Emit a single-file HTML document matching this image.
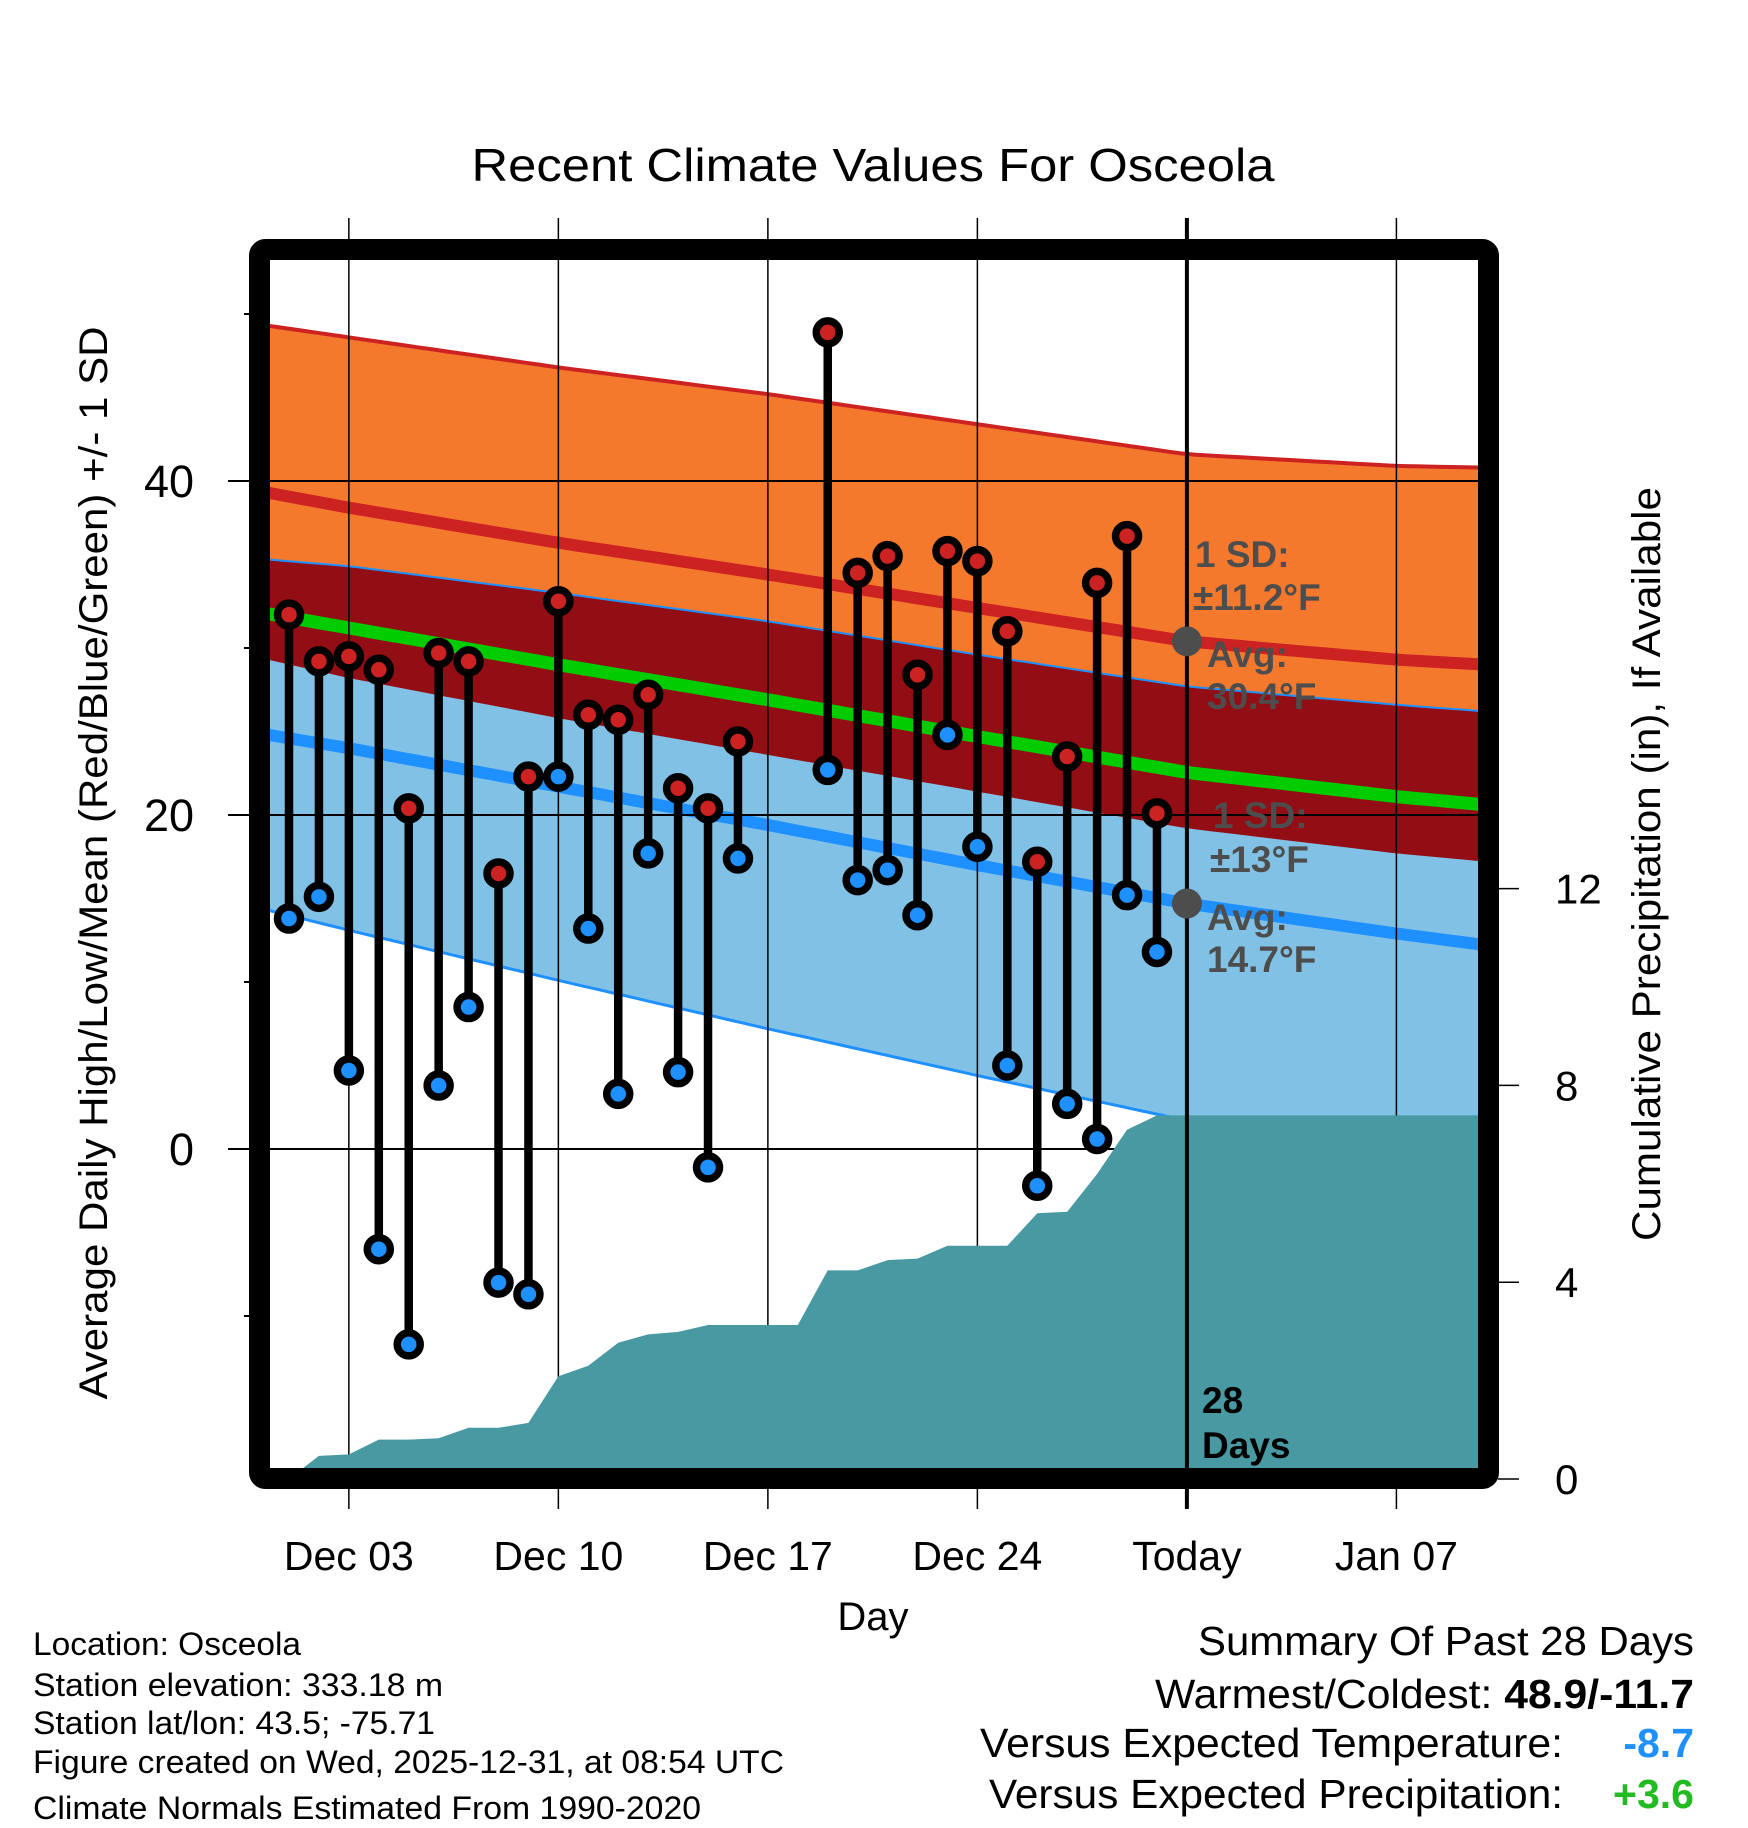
<!DOCTYPE html>
<html><head><meta charset="utf-8"><style>
html,body{margin:0;padding:0;background:#fff;}
svg{display:block;font-family:"Liberation Sans",Arial,sans-serif;}
</style></head><body>
<svg id="chart" xmlns="http://www.w3.org/2000/svg" width="1748" height="1828" viewBox="0 0 1748 1828">
<defs><clipPath id="plotclip"><rect x="270" y="260" width="1208" height="1209"/></clipPath></defs>
<text x="873" y="181" font-size="46" text-anchor="middle" textLength="803" lengthAdjust="spacingAndGlyphs">Recent Climate Values For Osceola</text>
<g id="bands" clip-path="url(#plotclip)"></g>
<g id="grid"></g>
<g id="precip" clip-path="url(#plotclip)"></g>
<g id="today"></g>
<g id="marks"></g>
<g id="annot" font-weight="bold" fill="#4d4d4d" font-size="37">
  <text x="1195" y="567">1 SD:</text>
  <text x="1193" y="610">±11.2°F</text>
  <text x="1207" y="667">Avg:</text>
  <text x="1207" y="709">30.4°F</text>
  <text x="1213" y="828">1 SD:</text>
  <text x="1210" y="872">±13°F</text>
  <text x="1207" y="930">Avg:</text>
  <text x="1207" y="972">14.7°F</text>
  <text x="1202" y="1413" fill="#000">28</text>
  <text x="1202" y="1458" fill="#000">Days</text>
</g>
<rect x="259.5" y="249.5" width="1229" height="1229" rx="6" fill="none" stroke="#000" stroke-width="21"/>
<g id="axes"></g>
<text transform="translate(107,863) rotate(-90)" font-size="40" text-anchor="middle" textLength="1073" lengthAdjust="spacingAndGlyphs">Average Daily High/Low/Mean (Red/Blue/Green) +/- 1 SD</text>
<text transform="translate(1660,864) rotate(-90)" font-size="40" text-anchor="middle" textLength="754" lengthAdjust="spacingAndGlyphs">Cumulative Precipitation (in), If Available</text>
<text x="873" y="1630" font-size="40" text-anchor="middle">Day</text>
<g font-size="32">
  <text x="33" y="1655" textLength="268" lengthAdjust="spacingAndGlyphs">Location: Osceola</text>
  <text x="33" y="1696" textLength="410" lengthAdjust="spacingAndGlyphs">Station elevation: 333.18 m</text>
  <text x="33" y="1734" textLength="402" lengthAdjust="spacingAndGlyphs">Station lat/lon: 43.5; -75.71</text>
  <text x="33" y="1773" textLength="751" lengthAdjust="spacingAndGlyphs">Figure created on Wed, 2025-12-31, at 08:54 UTC</text>
  <text x="33" y="1819" textLength="668" lengthAdjust="spacingAndGlyphs">Climate Normals Estimated From 1990-2020</text>
</g>
<g font-size="41" text-anchor="end">
  <text x="1694" y="1655" textLength="496" lengthAdjust="spacingAndGlyphs">Summary Of Past 28 Days</text>
  <text x="1694" y="1708" textLength="539" lengthAdjust="spacingAndGlyphs">Warmest/Coldest: <tspan font-weight="bold">48.9/-11.7</tspan></text>
  <text x="1563" y="1757" textLength="583" lengthAdjust="spacingAndGlyphs">Versus Expected Temperature:</text>
  <text x="1694" y="1757" font-weight="bold" fill="#1e90ff">-8.7</text>
  <text x="1563" y="1808" textLength="574" lengthAdjust="spacingAndGlyphs">Versus Expected Precipitation:</text>
  <text x="1694" y="1808" font-weight="bold" fill="#22bb22">+3.6</text>
</g>
</svg>
<script>
// ---- data ----
const dayNums = [1,2,3,4,5,6,7,8,9,10,11,12,13,14,15,16,19,20,21,22,23,24,25,26,27,28,29,30];
const highs = [32.0,29.2,29.5,28.7,20.4,29.7,29.2,16.5,22.3,32.8,26.0,25.7,27.2,21.6,20.4,24.4,48.9,34.5,35.5,28.4,35.8,35.2,31.0,17.2,23.5,33.9,36.7,20.1];
const lows  = [13.8,15.1,4.7,-6.0,-11.7,3.8,8.5,-8.0,-8.7,22.3,13.2,3.3,17.7,4.6,-1.1,17.4,22.7,16.1,16.7,14.0,24.8,18.1,5.0,-2.2,2.7,0.6,15.2,11.8];
const precipDays = [1,2,3,4,5,6,7,8,9,10,11,12,13,14,15,16,17,18,19,20,21,22,23,24,25,26,27,28,29,30,41];
const precipCum  = [0,0.47,0.5,0.8,0.8,0.83,1.04,1.04,1.14,2.09,2.3,2.77,2.94,2.99,3.13,3.13,3.13,3.13,4.24,4.24,4.45,4.48,4.74,4.74,4.74,5.4,5.43,6.2,7.1,7.39,7.39];
const normDays = [0.3,3,10,17,24,31,38,41];
const highMean = [39.3,38.4,36.3,34.4,32.4,30.4,29.3,29.0];
const highSD   = [10.0,10.2,10.5,10.8,11.0,11.2,11.6,11.8];
const lowMean  = [24.8,24.0,21.7,19.4,17.0,14.7,12.9,12.2];
const lowSD    = [10.5,10.9,11.6,12.2,12.6,13.0,13.7,14.0];
const xTickDays = [3,10,17,24,31,38];
const xTickLabels = ["Dec 03","Dec 10","Dec 17","Dec 24","Today","Jan 07"];
const yTicks = [0,20,40];
const yMinor = [-10,10,30,50];
const y2Ticks = [0,4,8,12];
// ---- scales ----
const X = d => 289 + (d-1)*29.93;
const Y = t => 1149 - 16.7*t;
const P = p => 1479 - 49.2*p;
const NS='http://www.w3.org/2000/svg';
function mk(tag, attrs, parent){const e=document.createElementNS(NS,tag);for(const k in attrs)e.setAttribute(k,attrs[k]);parent.appendChild(e);return e;}
function interp(arr,d){for(let i=0;i<normDays.length-1;i++){if(d<=normDays[i+1]){const f=(d-normDays[i])/(normDays[i+1]-normDays[i]);return arr[i]+f*(arr[i+1]-arr[i]);}}return arr[arr.length-1];}
const samp=[];for(let d=normDays[0];d<=normDays[normDays.length-1]+0.001;d+=0.5)samp.push(d);
const fn = {
  hiU:d=>interp(highMean,d)+interp(highSD,d), hiL:d=>interp(highMean,d)-interp(highSD,d),
  loU:d=>interp(lowMean,d)+interp(lowSD,d), loL:d=>interp(lowMean,d)-interp(lowSD,d),
  hi:d=>interp(highMean,d), lo:d=>interp(lowMean,d), mean:d=>(interp(highMean,d)+interp(lowMean,d))/2
};
function line(f){return samp.map(d=>X(d).toFixed(1)+','+Y(f(d)).toFixed(1)).join(' ');}
function band(fu,fl){return samp.map(d=>X(d).toFixed(1)+','+Y(fu(d)).toFixed(1)).join(' ')+' '+samp.slice().reverse().map(d=>X(d).toFixed(1)+','+Y(fl(d)).toFixed(1)).join(' ');}
const bands=document.getElementById('bands');
let e;
e=mk('polygon',{points:band(fn.hiU,fn.hiL),fill:'#f4792d'},bands);


e=mk('polygon',{points:band(fn.loU,fn.loL),fill:'#82c1e6'},bands);


e=mk('polygon',{points:band(fn.loU,fn.hiL),fill:'#930d14'},bands);


e=mk('polyline',{points:line(fn.hiU),fill:'none',stroke:'#cc2222','stroke-width':4},bands);


e=mk('polyline',{points:line(fn.loU),fill:'none',stroke:'#1e90ff','stroke-width':2},bands);


e=mk('polyline',{points:line(fn.loL),fill:'none',stroke:'#1e90ff','stroke-width':3},bands);


e=mk('polyline',{points:line(fn.hi),fill:'none',stroke:'#cc2222','stroke-width':12},bands);


e=mk('polyline',{points:line(fn.mean),fill:'none',stroke:'#00cc00','stroke-width':13},bands);


e=mk('polyline',{points:line(fn.lo),fill:'none',stroke:'#1e90ff','stroke-width':12},bands);


// grid
const grid=document.getElementById('grid');
xTickDays.forEach((d,i)=>{ if(xTickLabels[i]==='Today')return;
  e=mk('line',{x1:X(d),x2:X(d),y1:218,y2:1509,stroke:'#000','stroke-width':1.5},grid);
  
  
});
yTicks.forEach(t=>{
  e=mk('line',{x1:228,x2:1478,y1:Y(t),y2:Y(t),stroke:'#000','stroke-width':2},grid);
  
  
});
// precip
const pg=document.getElementById('precip');
let pts=precipDays.map((d,i)=>X(d).toFixed(1)+','+P(precipCum[i]).toFixed(1));
pts.push(X(precipDays[precipDays.length-1]).toFixed(1)+',1490', X(1).toFixed(1)+',1490');
e=mk('polygon',{points:pts.join(' '),fill:'#4899a2'},pg);


// today
const tg=document.getElementById('today');
e=mk('line',{x1:X(31),x2:X(31),y1:218,y2:1509,stroke:'#000','stroke-width':4},tg);


// marks
const mg=document.getElementById('marks');
dayNums.forEach((d,i)=>{
  e=mk('line',{x1:X(d),x2:X(d),y1:Y(highs[i]),y2:Y(lows[i]),stroke:'#000','stroke-width':8.5},mg);
  
  
});
dayNums.forEach((d,i)=>{
  e=mk('circle',{cx:X(d),cy:Y(highs[i]),r:11.5,fill:'#cc2222',stroke:'#000','stroke-width':7.5},mg);
  
  
  e=mk('circle',{cx:X(d),cy:Y(lows[i]),r:11.5,fill:'#1e90ff',stroke:'#000','stroke-width':7.5},mg);
  
  
});
e=mk('circle',{cx:X(31),cy:Y(highMean[5]),r:15,fill:'#4d4d4d'},mg);


e=mk('circle',{cx:X(31),cy:Y(lowMean[5]),r:15,fill:'#4d4d4d'},mg);


// axes
const ax=document.getElementById('axes');
xTickDays.forEach((d,i)=>{
  e=mk('text',{x:X(d),y:1570,'font-size':41,'text-anchor':'middle'},ax);
  e.textContent=xTickLabels[i];
  
  
});
yTicks.forEach(t=>{
  e=mk('text',{x:194,y:Y(t)+16,'font-size':45,'text-anchor':'end'},ax);
  e.textContent=String(t);
  
  
});
yMinor.forEach(t=>{
  e=mk('line',{x1:244,x2:260,y1:Y(t),y2:Y(t),stroke:'#000','stroke-width':2},ax);
  
  
});
y2Ticks.forEach(p=>{
  e=mk('line',{x1:1498,x2:1519,y1:P(p),y2:P(p),stroke:'#000','stroke-width':1.5},ax);
  
  
  e=mk('text',{x:1555,y:P(p)+15,'font-size':42},ax);
  e.textContent=String(p);
  
  
});
</script>
</body></html>
